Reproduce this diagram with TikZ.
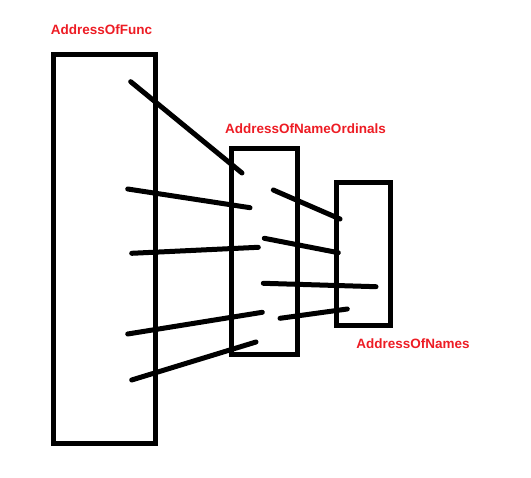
\documentclass[tikz,border=0pt]{standalone}
\usepackage{fontspec}
\setmainfont{Liberation Sans}
\definecolor{paintred}{HTML}{ED1C24}
\begin{document}
\begin{tikzpicture}[x=1pt,y=-1pt,
  box/.style={draw=black,line width=5pt},
  link/.style={draw=black,line width=5pt,line cap=round},
  lbl/.style={text=paintred,font=\bfseries\fontsize{13.5}{15}\selectfont,inner sep=0pt}]
\useasboundingbox (0,0) rectangle (531,478);
% boxes
\draw[box] (53,55) rectangle (155,444);
\draw[box] (231,149) rectangle (297,355);
\draw[box] (336,183) rectangle (390,326);
% labels
\node[lbl] (lf) at (101.5,30) {AddressOfFunc};
\node[lbl] (lo) at (305.5,129) {AddressOfNameOrdinals};
\node[lbl] (ln) at (413,344) {AddressOfNames};
% line endpoints
\coordinate (a1) at (130.7,81.7);  \coordinate (b1) at (242,173);
\coordinate (a2) at (127.7,189);   \coordinate (b2) at (250,207.7);
\coordinate (a3) at (273.3,190);   \coordinate (b3) at (340,219);
\coordinate (a4) at (131.7,253.3); \coordinate (b4) at (258.3,247.3);
\coordinate (a5) at (264.3,238.3); \coordinate (b5) at (338.3,252.7);
\coordinate (a6) at (263.3,283.3); \coordinate (b6) at (376,286.7);
\coordinate (a7) at (127.7,334);   \coordinate (b7) at (262.3,312.3);
\coordinate (a8) at (280,318.3);   \coordinate (b8) at (347.3,309);
\coordinate (a9) at (131.7,380);   \coordinate (b9) at (256,342);
\foreach \i in {1,...,9} {\draw[link] (a\i) -- (b\i);}
\end{tikzpicture}
\end{document}
